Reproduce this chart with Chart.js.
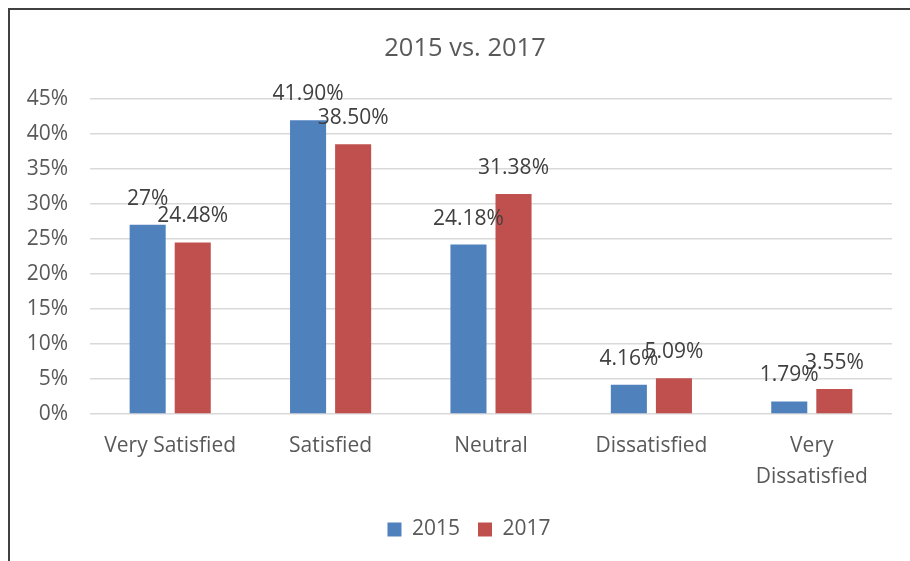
<!DOCTYPE html>
<html>
<head>
<meta charset="utf-8">
<script src="https://cdn.jsdelivr.net/npm/chart.js@4.4.1/dist/chart.umd.min.js"></script>
<style>
    html, body { margin: 0; padding: 0; background: #fff; }
    #wrap { position: relative; width: 910px; height: 561px; }
</style>
</head>
<body>
<div id="wrap"><canvas id="satisfaction-chart"></canvas></div>
<script>
// Survey results, share of respondents per answer
const categories = ['Very Satisfied', 'Satisfied', 'Neutral', 'Dissatisfied', ['Very', 'Dissatisfied']];
const values2015 = [27, 41.90, 24.18, 4.16, 1.79];
const values2017 = [24.48, 38.50, 31.38, 5.09, 3.55];
const labels2015 = ['27%', '41.90%', '24.18%', '4.16%', '1.79%'];
const labels2017 = ['24.48%', '38.50%', '31.38%', '5.09%', '3.55%'];
const yTicks = [0, 5, 10, 15, 20, 25, 30, 35, 40, 45];

const FONT = "'Open Sans', sans-serif";

// Frame lines on the left and top edges
const framePlugin = {
    id: 'frame',
    beforeDraw(chart) {
        const c = chart.ctx;
        c.save();
        c.fillStyle = '#404040';
        c.fillRect(8, 8, chart.width - 8, 2);
        c.fillRect(8, 8, 2, chart.height - 8);
        c.restore();
    }
};

// Title and legend sit centred over the plot rather than the whole canvas
const centreBlocks = {
    id: 'centreBlocks',
    afterLayout(chart) {
        if (chart.titleBlock) {
            chart.titleBlock.left += 14;
            chart.titleBlock.right += 14;
        }
        if (chart.legend) {
            chart.legend.left += 18;
            chart.legend.right += 18;
        }
    }
};

// Value labels above each bar
const valueLabels = {
    id: 'valueLabels',
    afterDatasetsDraw(chart) {
        const c = chart.ctx;
        c.save();
        c.font = '21px ' + FONT;
        c.fillStyle = '#404040';
        c.textAlign = 'center';
        c.textBaseline = 'middle';
        chart.data.datasets.forEach(function(ds, i) {
            chart.getDatasetMeta(i).data.forEach(function(bar, j) {
                c.fillText(ds.valueText[j], bar.x, bar.y - 26);
            });
        });
        c.restore();
    }
};

document.addEventListener('DOMContentLoaded', function() {
    const ctx = document.getElementById('satisfaction-chart');
    new Chart(ctx, {
        type: 'bar',
        data: {
            labels: categories,
            datasets: [
                {
                    label: '2015',
                    data: values2015,
                    valueText: labels2015,
                    backgroundColor: '#4F81BD'
                },
                {
                    label: '2017',
                    data: values2017,
                    valueText: labels2017,
                    backgroundColor: '#C0504D'
                }
            ]
        },
        options: {
            responsive: true,
            maintainAspectRatio: false,
            animation: false,
            categoryPercentage: 0.562,
            barPercentage: 0.8,
            layout: {
                padding: { left: 10, right: 18, top: 10, bottom: 11 }
            },
            plugins: {
                title: {
                    display: true,
                    text: '2015 vs. 2017',
                    color: '#595959',
                    font: { family: FONT, size: 25.5, weight: 'normal' },
                    padding: { top: 23, bottom: 35 }
                },
                legend: {
                    display: true,
                    position: 'bottom',
                    labels: {
                        color: '#595959',
                        font: { family: FONT, size: 21 },
                        boxWidth: 14,
                        boxHeight: 14,
                        padding: 18
                    }
                },
                tooltip: { enabled: false }
            },
            scales: {
                y: {
                    min: 0,
                    max: 45,
                    afterFit: function(axis) { axis.width = 80; },
                    afterBuildTicks: function(axis) {
                        axis.ticks = yTicks.map(function(v) { return { value: v }; });
                    },
                    border: { display: false },
                    grid: { color: '#D9D9D9', lineWidth: 1.5, drawTicks: false },
                    ticks: {
                        color: '#595959',
                        font: { family: FONT, size: 21 },
                        padding: 22,
                        callback: function(v) { return v + '%'; }
                    }
                },
                x: {
                    afterFit: function(axis) { axis.height = 87; },
                    border: { display: false },
                    grid: { display: false },
                    ticks: {
                        color: '#595959',
                        font: { family: FONT, size: 21, lineHeight: 1.48 },
                        padding: 8,
                        maxRotation: 0
                    }
                }
            }
        },
        plugins: [framePlugin, centreBlocks, valueLabels]
    });
});
</script>
</body>
</html>
